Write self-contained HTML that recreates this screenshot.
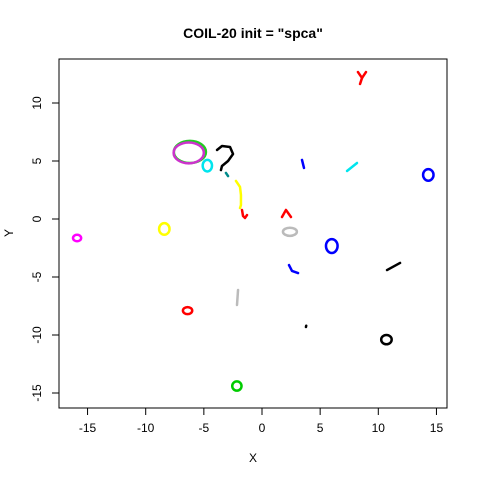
<!DOCTYPE html>
<html><head><meta charset="utf-8"><style>body{margin:0;background:#fff}svg{display:block;font-family:"Liberation Sans",sans-serif}</style></head>
<body>
<svg id="c" width="480" height="480">
<text x="253" y="38" text-anchor="middle" font-size="14" font-weight="bold">COIL-20 init = "spca"</text>
<rect x="59" y="59" width="388" height="349" fill="none" stroke="#000"/>
<text x="253" y="462" text-anchor="middle" font-size="12">X</text>
<text transform="translate(13,233) rotate(-90)" text-anchor="middle" font-size="12">Y</text>
<g id="g"></g>
</svg>
<script>
const xTicks=[-15,-10,-5,0,5,10,15];
const yTicks=[-15,-10,-5,0,5,10];
const loopCenters=[[-6.2,5.78],[-6.3,5.7],[-4.7,4.6],[-8.4,-0.86],[-15.9,-1.64],[2.4,-1.1],[14.3,3.8],[6.0,-2.33],[-6.4,-7.9],[-2.16,-14.4],[10.7,-10.4]];
const loopRadii=[[1.38,0.95],[1.3,0.9],[0.4,0.5],[0.45,0.5],[0.35,0.28],[0.6,0.35],[0.45,0.5],[0.5,0.6],[0.4,0.3],[0.4,0.4],[0.45,0.4]];
const loopColors=["#22cc22","#cc33cc","#00e5ee","#ffff00","#ff00ff","#bbbbbb","#0000ff","#0000ff","#ff0000","#00cc00","#000000"];
const lines=[
 {c:"#000",p:[[-3.87,5.95],[-3.44,6.29],[-2.75,6.21],[-2.49,5.6],[-2.92,5.0],[-3.44,4.57],[-3.53,4.22]]},
 {c:"#008b8b",p:[[-3.1,3.97],[-2.92,3.7]]},
 {c:"#ffff00",p:[[-2.24,3.28],[-1.89,2.76],[-1.81,2.07],[-1.81,1.2],[-1.89,0.95]]},
 {c:"#ff0000",p:[[-1.72,0.78],[-1.63,0.26],[-1.46,0.09],[-1.29,0.34]]},
 {c:"#0000ff",p:[[3.44,5.09],[3.61,4.4]]},
 {c:"#ff0000",p:[[1.72,0.17],[2.06,0.78],[2.49,0.17]]},
 {c:"#ff0000",p:[[8.25,12.67],[8.6,12.16],[8.94,12.67]]},
 {c:"#ff0000",p:[[8.6,12.16],[8.43,11.64]]},
 {c:"#00e5ee",p:[[7.31,4.14],[8.17,4.83]]},
 {c:"#0000ff",p:[[2.32,-3.97],[2.58,-4.48],[3.1,-4.66]]},
 {c:"#000",p:[[10.75,-4.4],[11.87,-3.79]]},
 {c:"#bbbbbb",p:[[-2.06,-6.12],[-2.15,-7.41]]},
 {c:"#000",p:[[3.78,-9.31],[3.8,-9.2]]}
];
const X=v=>262+11.63*v, Y=v=>219-11.6*v;
const g=document.getElementById('g'), NS="http://www.w3.org/2000/svg";
function mk(t,a){const e=document.createElementNS(NS,t);for(const k in a)e.setAttribute(k,a[k]);g.appendChild(e);return e;}
xTicks.forEach(t=>{const l=mk('line',{x1:X(t),x2:X(t),y1:408,y2:415,stroke:'#000'});


const s=mk('text',{x:X(t),y:432,'text-anchor':'middle','font-size':12});s.textContent=t;

});
yTicks.forEach(t=>{const l=mk('line',{x1:52,x2:59,y1:Y(t),y2:Y(t),stroke:'#000'});


const s=mk('text',{transform:`translate(41,${Y(t)}) rotate(-90)`,'text-anchor':'middle','font-size':12});s.textContent=t;

});
loopCenters.forEach((c,i)=>{const e=mk('ellipse',{cx:X(c[0]),cy:Y(c[1]),rx:loopRadii[i][0]*11.63,ry:loopRadii[i][1]*11.6,fill:'none',stroke:loopColors[i],'stroke-width':2.5});

});
lines.forEach(L=>{const e=mk('polyline',{points:L.p.map(q=>X(q[0])+','+Y(q[1])).join(' '),fill:'none',stroke:L.c,'stroke-width':2.5,'stroke-linecap':'round','stroke-linejoin':'round'});

});
</script>
</body></html>
